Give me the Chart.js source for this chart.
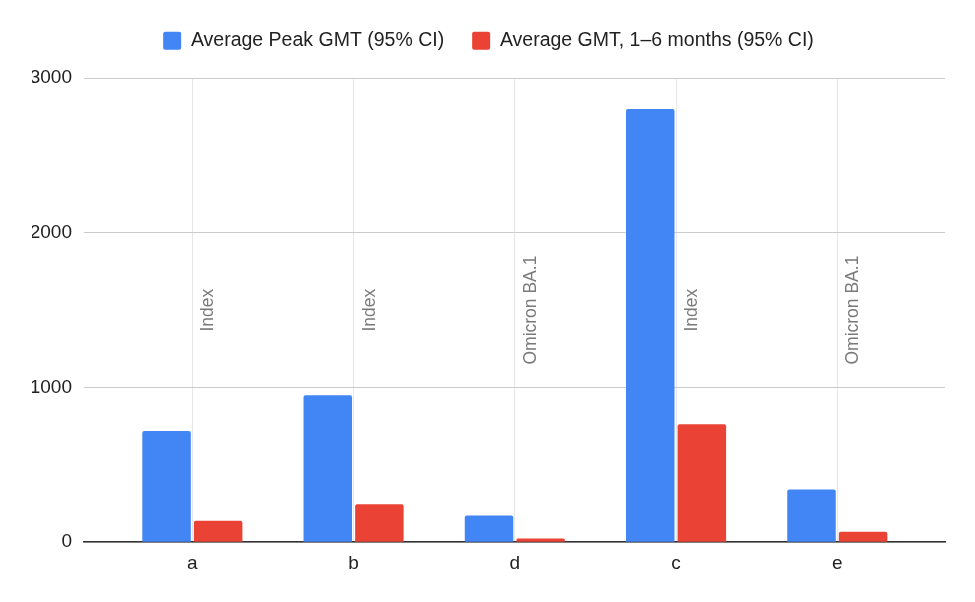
<!DOCTYPE html>
<html>
<head>
<meta charset="utf-8">
<script src="https://cdn.jsdelivr.net/npm/chart.js@4.4.1/dist/chart.umd.min.js"></script>
<style>
html,body{margin:0;padding:0;background:#fff;}
#wrap{width:975px;height:602px;}
</style>
</head>
<body>
<div id="wrap"><canvas id="c"></canvas></div>
<script>
const categories = ["a", "b", "d", "c", "e"];
const peakGMT = [718, 950, 172, 2800, 341];
const gmt16 = [139, 245, 24, 762, 67];
const variantLabels = ["Index", "Index", "Omicron BA.1", "Index", "Omicron BA.1"];
const yTicks = [0, 1000, 2000, 3000];

const FONT = "'Liberation Sans', Arial, sans-serif";

const vertLabels = {
  id: 'vertLabels',
  afterDatasetsDraw(chart) {
    const ctx = chart.ctx;
    const xs = chart.scales.x, ys = chart.scales.y;
    const yc = ys.getPixelForValue(1500);
    ctx.save();
    ctx.fillStyle = '#7a7a7a';
    ctx.font = "17.5px " + FONT;
    ctx.textAlign = 'center';
    ctx.textBaseline = 'alphabetic';
    variantLabels.forEach((t, i) => {
      const x = xs.getPixelForValue(i) + 21;
      ctx.save();
      ctx.translate(x, yc);
      ctx.rotate(-Math.PI / 2);
      ctx.fillText(t, 0, 0);
      ctx.restore();
    });
    ctx.restore();
  }
};

const legendSpacer = {
  id: 'legendSpacer',
  beforeInit(chart) {
    const orig = chart.legend.fit;
    chart.legend.fit = function () { orig.call(this); this.height = 75; };
  }
};

const toXY = arr => arr.map((v, i) => ({ x: i, y: v }));

new Chart(document.getElementById('c'), {
  type: 'bar',
  data: {
    datasets: [
      { label: 'Average Peak GMT (95% CI)', data: toXY(peakGMT), backgroundColor: '#4285f4', borderRadius: 2, borderSkipped: 'bottom' },
      { label: 'Average GMT, 1–6 months (95% CI)', data: toXY(gmt16), backgroundColor: '#ea4335', borderRadius: 2, borderSkipped: 'bottom' }
    ]
  },
  options: {
    responsive: true,
    maintainAspectRatio: false,
    animation: false,
    layout: { padding: { top: 3, right: 30, left: 32, bottom: 17 } },
    datasets: { bar: { categoryPercentage: 0.64, barPercentage: 0.94 } },
    plugins: {
      legend: {
        position: 'top',
        labels: {
          font: { family: FONT, size: 19.5 },
          color: '#222',
          boxWidth: 18, boxHeight: 18,
          useBorderRadius: true, borderRadius: 2,
          padding: 28
        }
      },
      tooltip: { enabled: false }
    },
    scales: {
      x: {
        type: 'linear',
        offset: false,
        min: -0.672, max: 4.668,
        afterBuildTicks(axis) { axis.ticks = categories.map((_, i) => ({ value: i })); },
        grid: { color: '#e6e6e6', drawTicks: false, offset: false },
        border: { color: '#333333', width: 1.5 },
        ticks: {
          font: { family: FONT, size: 19 }, color: '#222', padding: 10,
          callback: v => categories[v]
        }
      },
      y: {
        min: 0, max: 3000,
        afterBuildTicks(axis) { axis.ticks = yTicks.map(v => ({ value: v })); },
        afterFit(axis) { axis.width = 52; },
        grid: { color: '#cccccc', drawTicks: false },
        border: { display: false },
        ticks: {
          font: { family: FONT, size: 19 }, color: '#222', padding: 12,
          callback: v => String(v)
        }
      }
    }
  },
  plugins: [vertLabels, legendSpacer]
});
</script>
</body>
</html>
